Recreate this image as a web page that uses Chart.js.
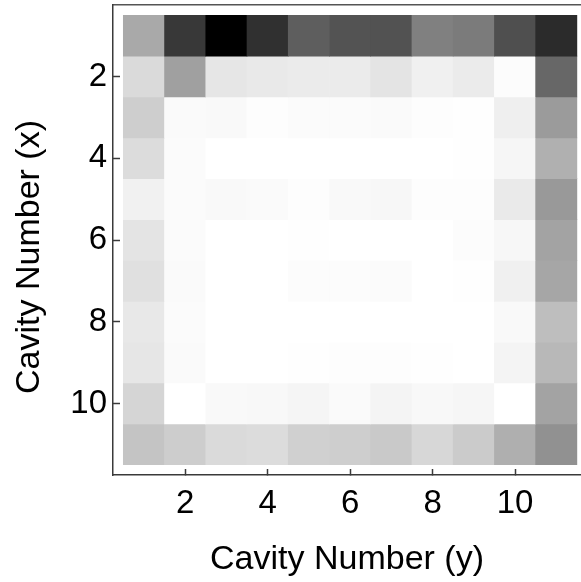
<!DOCTYPE html>
<html>
<head>
<meta charset="utf-8">
<script src="https://cdn.jsdelivr.net/npm/chart.js@4.4.1/dist/chart.umd.min.js"></script>
<style>
  html, body { margin: 0; padding: 0; background: #fff; }
  #wrap { width: 581px; height: 582px; }
</style>
</head>
<body>
<div id="wrap"><canvas id="cavityChart"></canvas></div>
<script>
// cavity numbers along each axis
const cavityY = [1, 2, 3, 4, 5, 6, 7, 8, 9, 10, 11];
const cavityX = [1, 2, 3, 4, 5, 6, 7, 8, 9, 10, 11];
const tickValues = [2, 4, 6, 8, 10];

// grey level (0 = black, 255 = white) of each cell, one array per x row
const row1  = [169,  56,   0,  48,  94,  83,  82, 128, 123,  79,  43];
const row2  = [218, 160, 230, 233, 235, 235, 228, 240, 235, 252, 103];
const row3  = [206, 250, 249, 253, 251, 251, 250, 253, 254, 239, 155];
const row4  = [220, 251, 255, 255, 255, 255, 255, 255, 254, 246, 176];
const row5  = [241, 251, 249, 250, 253, 249, 247, 253, 253, 234, 153];
const row6  = [228, 251, 255, 255, 254, 255, 255, 255, 252, 247, 163];
const row7  = [224, 250, 255, 255, 252, 252, 251, 255, 254, 240, 166];
const row8  = [232, 251, 255, 255, 255, 255, 255, 255, 255, 249, 190];
const row9  = [230, 250, 255, 255, 254, 253, 253, 254, 255, 244, 184];
const row10 = [213, 255, 249, 248, 245, 250, 244, 248, 246, 255, 163];
const row11 = [196, 205, 218, 220, 208, 206, 201, 215, 203, 175, 145];
const levels = [row1, row2, row3, row4, row5, row6, row7, row8, row9, row10, row11];

const fontFamily = '"Liberation Sans", Arial, Helvetica, sans-serif';
const axisColor = '#3a3a3a';

const datasets = cavityX.map((x, i) => ({
    label: 'x = ' + x,
    data: cavityY.map(y => ({x: y, y: [x - 0.5, x + 0.5]})),
    backgroundColor: levels[i].map(g => 'rgb(' + g + ',' + g + ',' + g + ')'),
    borderWidth: 0,
    grouped: false,
    categoryPercentage: 1,
    barPercentage: 1
}));

function setTicks(scale) {
    scale.ticks = tickValues.map(v => ({value: v}));
}

// keep the tick labels from pushing the plot area inwards
function noLabelPadding(scale) {
    scale.paddingTop = 0;
    scale.paddingBottom = 0;
    scale.paddingLeft = 0;
    scale.paddingRight = 0;
}

const ctx = document.getElementById('cavityChart').getContext('2d');
const cavityChart = new Chart(ctx, {
    type: 'bar',
    data: {
        datasets: datasets
    },
    options: {
        responsive: true,
        maintainAspectRatio: false,
        animation: false,
        layout: {
            padding: {top: 5, right: 0, bottom: 0, left: 0}
        },
        scales: {
            x: {
                type: 'linear',
                position: 'bottom',
                min: 0.25,
                max: 11.6,
                offset: false,
                z: 1,
                afterBuildTicks: setTicks,
                afterFit: (scale) => { scale.height = 107; noLabelPadding(scale); },
                grid: {
                    display: true,
                    offset: false,
                    drawOnChartArea: false,
                    drawTicks: true,
                    tickLength: -6,
                    tickColor: axisColor,
                    tickWidth: 1.5
                },
                border: {display: true, color: axisColor, width: 1.5},
                ticks: {
                    color: '#000',
                    padding: 15,
                    maxRotation: 0,
                    font: {family: fontFamily, size: 33}
                },
                title: {
                    display: true,
                    text: 'Cavity Number (y)',
                    color: '#000',
                    padding: {top: 0, bottom: 2},
                    font: {family: fontFamily, size: 34}
                }
            },
            xTop: {
                type: 'linear',
                position: 'top',
                min: 0.25,
                max: 11.6,
                offset: false,
                afterFit: (scale) => { scale.height = 0; noLabelPadding(scale); },
                grid: {display: false},
                border: {display: true, color: '#555', width: 1.5},
                ticks: {display: false}
            },
            y: {
                type: 'linear',
                reverse: true,
                min: 0.25,
                max: 11.75,
                z: 1,
                afterBuildTicks: setTicks,
                afterFit: (scale) => { scale.width = 113; noLabelPadding(scale); },
                grid: {
                    display: true,
                    drawOnChartArea: false,
                    drawTicks: true,
                    tickLength: -7,
                    tickColor: axisColor,
                    tickWidth: 1.5
                },
                border: {display: true, color: axisColor, width: 1.5},
                ticks: {
                    color: '#000',
                    padding: 13,
                    font: {family: fontFamily, size: 33}
                },
                title: {
                    display: true,
                    // two en spaces nudge the label down a little, like the original
                    text: 'Cavity Number (x)\u2002\u2002',
                    color: '#000',
                    padding: {top: 9, bottom: 0},
                    font: {family: fontFamily, size: 34}
                }
            }
        },
        plugins: {
            legend: {display: false},
            tooltip: {enabled: false}
        }
    }
});
</script>
</body>
</html>
